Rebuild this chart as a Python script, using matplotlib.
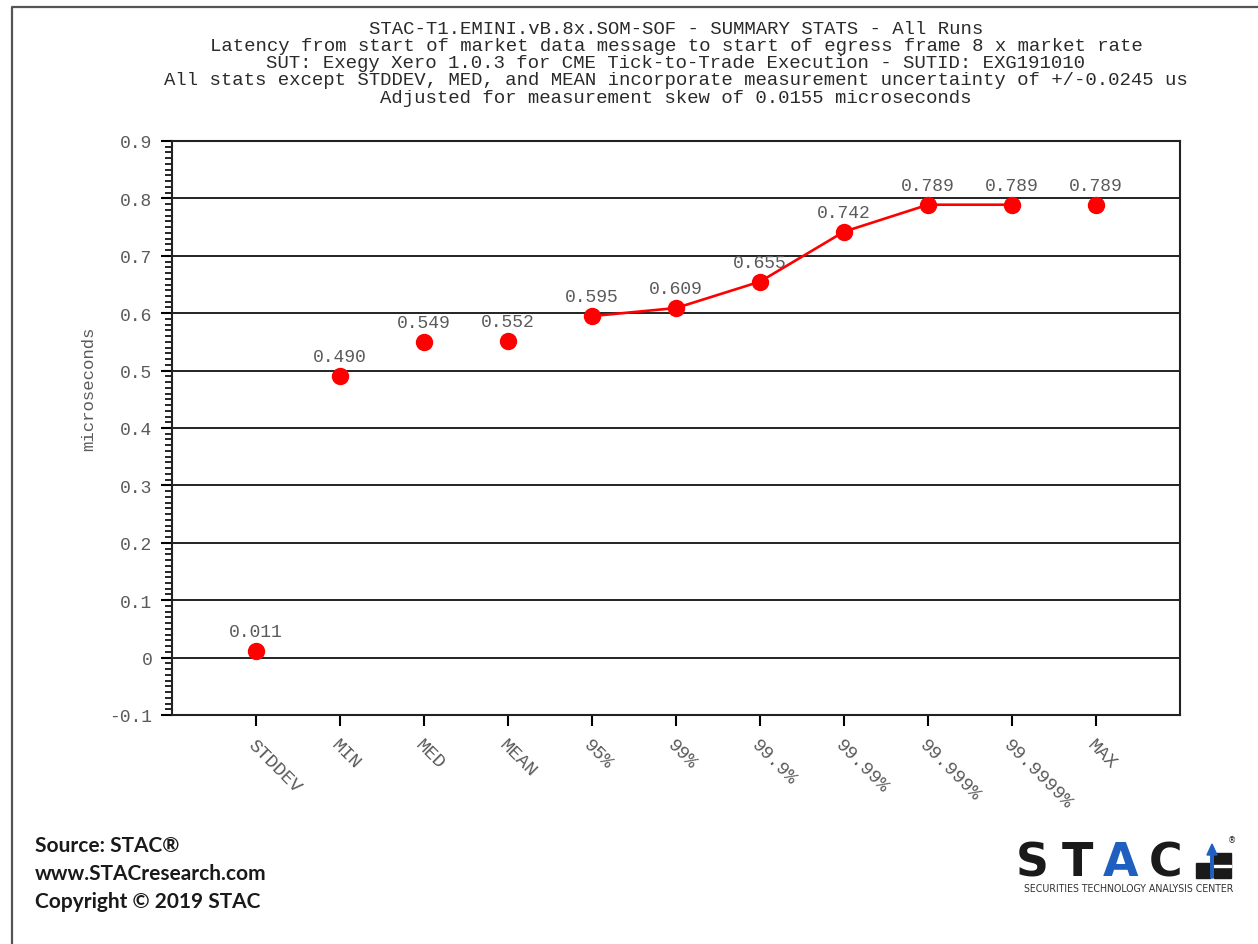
import matplotlib
matplotlib.use('Agg')
import matplotlib.pyplot as plt
from matplotlib.lines import Line2D
from matplotlib.patches import Rectangle, FancyArrow
from matplotlib.ticker import MultipleLocator

# data
stats = ['STDDEV', 'MIN', 'MED', 'MEAN', '95%', '99%', '99.9%',
         '99.99%', '99.999%', '99.9999%', 'MAX']
latency = [0.011, 0.490, 0.549, 0.552, 0.595, 0.609, 0.655,
           0.742, 0.789, 0.789, 0.789]
labels = ['0.011', '0.490', '0.549', '0.552', '0.595', '0.609', '0.655',
          '0.742', '0.789', '0.789', '0.789']
# only the percentile points are joined by a line
line_from, line_to = 4, 9

title_lines = [
    'STAC-T1.EMINI.vB.8x.SOM-SOF - SUMMARY STATS - All Runs',
    'Latency from start of market data message to start of egress frame 8 x market rate',
    'SUT: Exegy Xero 1.0.3 for CME Tick-to-Trade Execution - SUTID: EXG191010',
    'All stats except STDDEV, MED, and MEAN incorporate measurement uncertainty of +/-0.0245 us',
    'Adjusted for measurement skew of 0.0155 microseconds',
]
footer_lines = ['Source: STAC\u00ae', 'www.STACresearch.com', 'Copyright \u00a9 2019 STAC']

mono = 'Liberation Mono'
gray = '#5a5a5a'
red = '#ff0000'

W, H = 1258, 945
fig = plt.figure(figsize=(W / 100, H / 100), dpi=100)
ax = fig.add_axes([172 / W, 1 - 716 / H, (1180 - 172) / W, (716 - 142) / H])

x = list(range(len(stats)))
ax.plot(x[line_from:line_to + 1], latency[line_from:line_to + 1], color=red, lw=1.9, zorder=3)
ax.plot(x, latency, 'o', color=red, ms=11.5, zorder=4)
for xi, v, t in zip(x, latency, labels):
    ax.annotate(t, (xi, v), xytext=(0, 8), textcoords='offset points',
                ha='center', va='bottom', family=mono, fontsize=13, color=gray)

ax.set_xlim(-1, len(stats))
ax.set_ylim(-0.1, 0.9)
ax.yaxis.set_minor_locator(MultipleLocator(0.01))
ax.set_yticks([i / 10 for i in range(-1, 10)])
ax.set_yticklabels(['-0.1', '0'] + ['0.%d' % i for i in range(1, 10)],
                   family=mono, fontsize=13, color=gray)
ax.set_xticks(x)
ax.set_xticklabels(stats, rotation=-45, ha='left', va='top', rotation_mode='anchor',
                   family=mono, fontsize=13.5, color=gray)
ax.tick_params(axis='x', which='major', length=8, width=1.5, direction='out', pad=7)
ax.tick_params(axis='y', which='major', length=8, width=1.5, direction='out', pad=6)
ax.tick_params(axis='y', which='minor', length=5, width=1.2, direction='out')
ax.tick_params(axis='x', which='minor', bottom=False)

ax.grid(axis='y', which='major', color='#222222', lw=1.4)
ax.set_axisbelow(True)
for s in ax.spines.values():
    s.set_color('#222222')
    s.set_linewidth(1.5)

ax.set_ylabel('microseconds', family=mono, fontsize=12.5, color=gray)
ax.yaxis.set_label_coords(-0.075, 0.57)

for i, t in enumerate(title_lines):
    fig.text(676 / W, 1 - (29 + 17.3 * i) / H, t, ha='center', va='center',
             family=mono, fontsize=13.7, color='#2a2a2a')

for i, t in enumerate(footer_lines):
    fig.text(35 / W, 1 - (846 + 28 * i) / H, t, ha='left', va='center',
             family='Lato', fontweight='bold', fontsize=15, color='#1a1a1a')

# page frame on the left and top
fig.add_artist(Line2D([12 / W, 12 / W, 1], [0, 1 - 8 / H, 1 - 8 / H],
                      color='#555555', lw=1.6))

# STAC logo
for ch, xc, col in [('S', 1032, '#1a1a1a'), ('T', 1077, '#1a1a1a'),
                    ('A', 1121, '#1f5fbf'), ('C', 1166, '#1a1a1a')]:
    fig.text(xc / W, 1 - 864 / H, ch, ha='center', va='center', family='DejaVu Sans',
             fontweight='bold', fontsize=33, color=col)
fig.add_artist(Rectangle((1196 / W, 1 - 879 / H), 14 / W, 15 / H, color='#1a1a1a'))
fig.add_artist(Rectangle((1214 / W, 1 - 879 / H), 17 / W, 25 / H, color='#1a1a1a'))
fig.add_artist(Rectangle((1214 / W, 1 - 868 / H), 17 / W, 2.5 / H, color='white'))
fig.add_artist(FancyArrow(1212 / W, 1 - 879 / H, 0, 34 / H, width=2.5 / W,
                          head_width=10 / W, head_length=11 / H, color='#1f5fbf',
                          length_includes_head=True))
fig.text(1232 / W, 1 - 841 / H, '\u00ae', ha='center', va='center', fontsize=6, color='#1a1a1a')
fig.text(1129 / W, 1 - 889 / H, 'SECURITIES TECHNOLOGY ANALYSIS CENTER', ha='center',
         va='center', family='DejaVu Sans', fontsize=7.6, fontstretch='condensed',
         color='#333333')

fig.savefig('out.png', dpi=100)
